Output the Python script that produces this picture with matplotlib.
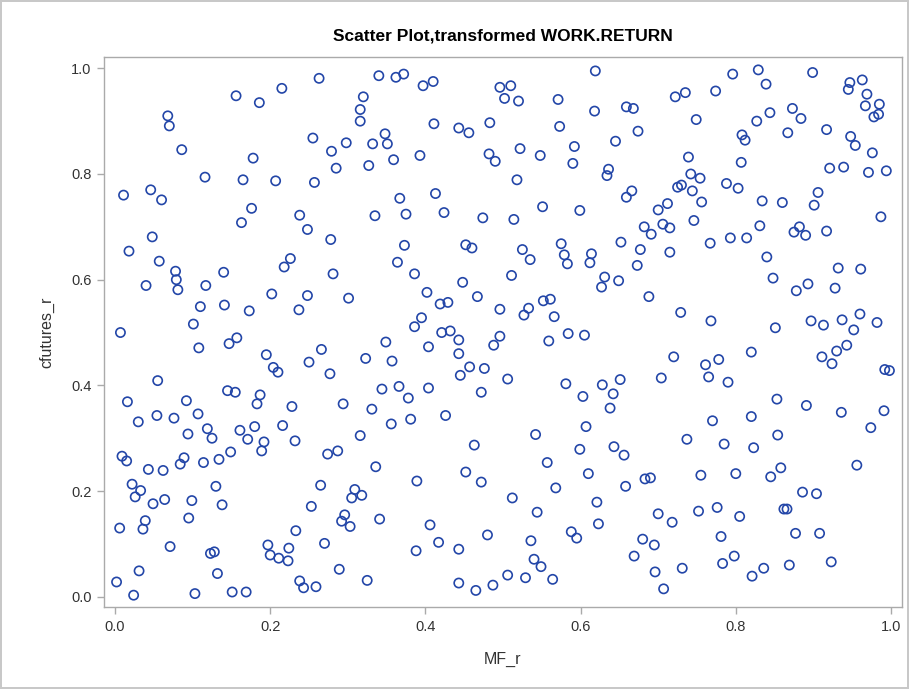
import matplotlib
matplotlib.use("Agg")
import matplotlib.pyplot as plt

# MF_r / cfutures_r pairs, split in three bands
upper = [
    (0.156, 0.948), (0.186, 0.935), (0.215, 0.962), (0.068, 0.910), (0.070, 0.891),
    (0.086, 0.846), (0.178, 0.830), (0.116, 0.794), (0.165, 0.789), (0.207, 0.787),
    (0.011, 0.760), (0.046, 0.770), (0.060, 0.751), (0.176, 0.735), (0.163, 0.708),
    (0.238, 0.722), (0.048, 0.681),
    (0.263, 0.981), (0.340, 0.986), (0.362, 0.983), (0.372, 0.989), (0.397, 0.967),
    (0.410, 0.975), (0.496, 0.964), (0.320, 0.946), (0.316, 0.922), (0.316, 0.900),
    (0.411, 0.895), (0.443, 0.887), (0.456, 0.878), (0.483, 0.897), (0.255, 0.868),
    (0.298, 0.859), (0.348, 0.876), (0.332, 0.857), (0.351, 0.857), (0.279, 0.843),
    (0.285, 0.811), (0.327, 0.816), (0.359, 0.827), (0.393, 0.835), (0.482, 0.838),
    (0.490, 0.824), (0.257, 0.784), (0.367, 0.754), (0.413, 0.763), (0.335, 0.721),
    (0.375, 0.724), (0.424, 0.727), (0.474, 0.717), (0.248, 0.695), (0.278, 0.676),
    (0.373, 0.665), (0.452, 0.666), (0.460, 0.660),
    (0.510, 0.967), (0.502, 0.943), (0.520, 0.938), (0.619, 0.995), (0.571, 0.941),
    (0.618, 0.919), (0.659, 0.927), (0.668, 0.924), (0.722, 0.946), (0.735, 0.954),
    (0.749, 0.903), (0.573, 0.890), (0.674, 0.881), (0.645, 0.862), (0.522, 0.848),
    (0.548, 0.835), (0.592, 0.852), (0.590, 0.820), (0.636, 0.809), (0.634, 0.797),
    (0.739, 0.832), (0.742, 0.800), (0.754, 0.792), (0.518, 0.789), (0.725, 0.775),
    (0.730, 0.779), (0.744, 0.768), (0.756, 0.747), (0.666, 0.768), (0.659, 0.756),
    (0.551, 0.738), (0.599, 0.731), (0.514, 0.714), (0.700, 0.732), (0.712, 0.744),
    (0.682, 0.700), (0.691, 0.686), (0.706, 0.705), (0.715, 0.698), (0.746, 0.712),
    (0.575, 0.668), (0.652, 0.671),
    (0.796, 0.989), (0.829, 0.997), (0.839, 0.970), (0.899, 0.992), (0.774, 0.957),
    (0.947, 0.973), (0.963, 0.978), (0.945, 0.960), (0.969, 0.951), (0.967, 0.929),
    (0.985, 0.932), (0.978, 0.908), (0.984, 0.913), (0.873, 0.924), (0.884, 0.905),
    (0.844, 0.916), (0.827, 0.900), (0.917, 0.884), (0.867, 0.878), (0.808, 0.874),
    (0.812, 0.864), (0.948, 0.871), (0.954, 0.854), (0.976, 0.840), (0.807, 0.822),
    (0.921, 0.811), (0.939, 0.813), (0.971, 0.803), (0.994, 0.806), (0.788, 0.782),
    (0.803, 0.773), (0.906, 0.765), (0.901, 0.741), (0.834, 0.749), (0.860, 0.746),
    (0.987, 0.719), (0.831, 0.702), (0.882, 0.700), (0.875, 0.690), (0.890, 0.684),
    (0.917, 0.692), (0.793, 0.679), (0.814, 0.679), (0.767, 0.669),
]

middle = [
    (0.018, 0.654), (0.057, 0.635), (0.078, 0.616), (0.079, 0.600), (0.081, 0.581),
    (0.040, 0.589), (0.117, 0.589), (0.140, 0.614), (0.218, 0.624), (0.226, 0.640),
    (0.202, 0.573), (0.237, 0.543), (0.110, 0.549), (0.141, 0.552), (0.173, 0.541),
    (0.101, 0.516), (0.007, 0.500), (0.108, 0.471), (0.147, 0.479), (0.157, 0.490),
    (0.195, 0.458), (0.204, 0.434), (0.210, 0.425), (0.055, 0.409), (0.145, 0.390),
    (0.155, 0.387), (0.187, 0.382), (0.183, 0.365), (0.228, 0.360), (0.016, 0.369),
    (0.092, 0.371), (0.030, 0.331), (0.054, 0.343), (0.076, 0.338), (0.107, 0.346),
    (0.216, 0.324), (0.180, 0.322), (0.094, 0.308), (0.119, 0.318), (0.161, 0.315),
    (0.364, 0.633), (0.281, 0.611), (0.386, 0.611), (0.448, 0.595), (0.248, 0.570),
    (0.301, 0.565), (0.402, 0.576), (0.419, 0.554), (0.429, 0.557), (0.467, 0.568),
    (0.496, 0.544), (0.395, 0.528), (0.386, 0.511), (0.421, 0.500), (0.432, 0.503),
    (0.443, 0.486), (0.496, 0.493), (0.488, 0.476), (0.349, 0.482), (0.404, 0.473),
    (0.266, 0.468), (0.250, 0.444), (0.323, 0.451), (0.357, 0.446), (0.443, 0.460),
    (0.277, 0.422), (0.457, 0.435), (0.476, 0.432), (0.445, 0.419), (0.344, 0.393),
    (0.366, 0.398), (0.378, 0.376), (0.404, 0.395), (0.472, 0.387), (0.294, 0.365),
    (0.331, 0.355), (0.356, 0.327), (0.381, 0.336), (0.426, 0.343), (0.316, 0.305),
    (0.525, 0.657), (0.535, 0.638), (0.579, 0.647), (0.583, 0.630), (0.614, 0.649),
    (0.612, 0.632), (0.677, 0.657), (0.715, 0.652), (0.673, 0.627), (0.511, 0.608),
    (0.631, 0.605), (0.627, 0.586), (0.649, 0.598), (0.688, 0.568), (0.552, 0.560),
    (0.561, 0.563), (0.533, 0.546), (0.527, 0.533), (0.566, 0.530), (0.729, 0.538),
    (0.584, 0.498), (0.605, 0.495), (0.559, 0.484), (0.720, 0.454), (0.506, 0.412),
    (0.581, 0.403), (0.628, 0.401), (0.651, 0.411), (0.642, 0.384), (0.603, 0.379),
    (0.704, 0.414), (0.638, 0.357), (0.607, 0.322), (0.542, 0.307),
    (0.840, 0.643), (0.932, 0.622), (0.961, 0.620), (0.848, 0.603), (0.878, 0.579),
    (0.893, 0.592), (0.928, 0.584), (0.768, 0.522), (0.851, 0.509), (0.897, 0.522),
    (0.913, 0.514), (0.937, 0.524), (0.960, 0.535), (0.952, 0.505), (0.982, 0.519),
    (0.820, 0.463), (0.943, 0.476), (0.930, 0.465), (0.911, 0.454), (0.924, 0.441),
    (0.778, 0.449), (0.761, 0.439), (0.765, 0.416), (0.790, 0.406), (0.992, 0.430),
    (0.998, 0.428), (0.853, 0.374), (0.891, 0.362), (0.936, 0.349), (0.991, 0.352),
    (0.770, 0.333), (0.820, 0.341), (0.974, 0.320), (0.854, 0.306),
]

lower = [
    (0.125, 0.300), (0.171, 0.298), (0.192, 0.293), (0.189, 0.276), (0.232, 0.295),
    (0.009, 0.266), (0.015, 0.257), (0.089, 0.263), (0.084, 0.251), (0.114, 0.254),
    (0.134, 0.260), (0.149, 0.274), (0.043, 0.241), (0.062, 0.239), (0.022, 0.213),
    (0.033, 0.201), (0.026, 0.189), (0.130, 0.209), (0.049, 0.176), (0.064, 0.184),
    (0.099, 0.182), (0.138, 0.174), (0.095, 0.149), (0.006, 0.130), (0.039, 0.144),
    (0.036, 0.128), (0.233, 0.125), (0.071, 0.095), (0.123, 0.082), (0.128, 0.085),
    (0.197, 0.098), (0.200, 0.079), (0.211, 0.073), (0.223, 0.068), (0.224, 0.092),
    (0.031, 0.049), (0.132, 0.044), (0.002, 0.028), (0.024, 0.003), (0.103, 0.006),
    (0.151, 0.009), (0.169, 0.009), (0.238, 0.030), (0.243, 0.017),
    (0.274, 0.270), (0.287, 0.276), (0.463, 0.287), (0.336, 0.246), (0.452, 0.236),
    (0.472, 0.217), (0.389, 0.219), (0.265, 0.211), (0.309, 0.203), (0.305, 0.187),
    (0.318, 0.192), (0.253, 0.171), (0.296, 0.155), (0.292, 0.143), (0.303, 0.133),
    (0.341, 0.147), (0.406, 0.136), (0.480, 0.117), (0.417, 0.103), (0.388, 0.087),
    (0.443, 0.090), (0.270, 0.101), (0.289, 0.052), (0.325, 0.031), (0.259, 0.019),
    (0.443, 0.026), (0.465, 0.012), (0.487, 0.022),
    (0.737, 0.298), (0.599, 0.279), (0.643, 0.284), (0.656, 0.268), (0.557, 0.254),
    (0.610, 0.233), (0.658, 0.209), (0.683, 0.223), (0.690, 0.225), (0.755, 0.230),
    (0.568, 0.206), (0.512, 0.187), (0.621, 0.179), (0.544, 0.160), (0.752, 0.162),
    (0.700, 0.157), (0.718, 0.141), (0.623, 0.138), (0.588, 0.123), (0.595, 0.111),
    (0.536, 0.106), (0.680, 0.109), (0.695, 0.098), (0.669, 0.077), (0.540, 0.071),
    (0.549, 0.057), (0.506, 0.041), (0.529, 0.036), (0.564, 0.033), (0.696, 0.047),
    (0.731, 0.054), (0.707, 0.015),
    (0.785, 0.289), (0.823, 0.282), (0.956, 0.249), (0.800, 0.233), (0.845, 0.227),
    (0.858, 0.244), (0.886, 0.198), (0.904, 0.195), (0.776, 0.169), (0.805, 0.152),
    (0.862, 0.166), (0.866, 0.166), (0.781, 0.114), (0.877, 0.120), (0.908, 0.120),
    (0.783, 0.063), (0.798, 0.077), (0.836, 0.054), (0.821, 0.039), (0.869, 0.060),
    (0.923, 0.066),
]

ticks = [0.0, 0.2, 0.4, 0.6, 0.8, 1.0]
tick_labels = ["0.0", "0.2", "0.4", "0.6", "0.8", "1.0"]

pts = upper + middle + lower
mf_r = [p[0] for p in pts]
cfutures_r = [p[1] for p in pts]

plt.rcParams["font.family"] = ["Liberation Sans", "DejaVu Sans"]

fig = plt.figure(figsize=(9.09, 6.89), dpi=100)
fig.patch.set_edgecolor("#c8c8c8")
fig.patch.set_linewidth(1.5)
ax = fig.add_axes([0.1144, 0.1186, 0.8779, 0.7987])

ax.scatter(mf_r, cfutures_r, s=44, facecolors="none", edgecolors="#2346a8", linewidths=1.2)

ax.set_xlim(-0.0142, 1.0142)
ax.set_ylim(-0.0199, 1.0214)
ax.set_xticks(ticks)
ax.set_xticklabels(tick_labels)
ax.set_yticks(ticks)
ax.set_yticklabels(tick_labels)

for s in ax.spines.values():
    s.set_color("#aaaaaa")
    s.set_linewidth(1.0)
ax.tick_params(direction="out", length=5, width=1, color="#aaaaaa",
               labelcolor="#333333", labelsize=10.5, pad=4)

ax.set_xlabel("MF_r", fontsize=11.5, color="#333333", labelpad=13)
ax.set_ylabel("cfutures_r", fontsize=11.5, color="#333333", labelpad=12)
ax.set_title("Scatter Plot,transformed WORK.RETURN", fontsize=12.5,
             fontweight="bold", pad=12)

fig.savefig("out.png", dpi=100)
